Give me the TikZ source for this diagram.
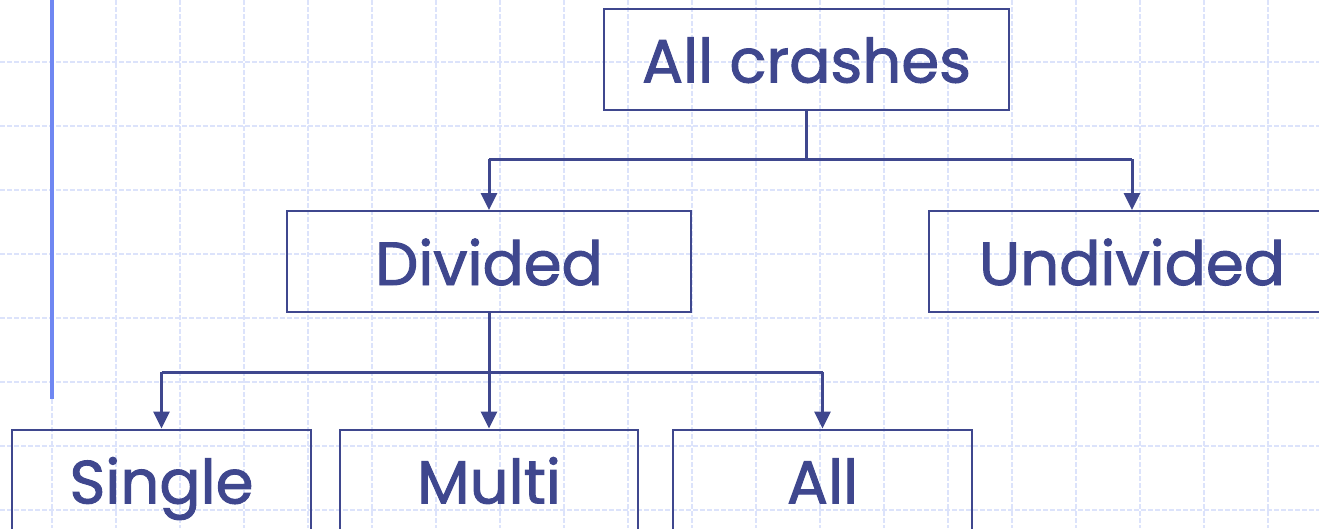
\documentclass[tikz,border=0pt]{standalone}
\usepackage{fontspec}
\setmainfont{Poppins}[FakeBold=1.6]
\usetikzlibrary{arrows.meta}
\definecolor{ink}{HTML}{3F478E}
\definecolor{gridblue}{HTML}{DCE3FB}
\definecolor{barblue}{HTML}{6F87F2}
\tikzset{
  box/.style={draw=ink, line width=2pt, text=ink, minimum width=#1, minimum height=101pt,
    inner sep=0pt, text height=47pt, text depth=0pt, font=\fontsize{61}{67}\selectfont},
  box/.default=300pt,
  link/.style={draw=ink, line width=3pt, -{Triangle[length=17pt,width=16pt]}},
  trunk/.style={draw=ink, line width=3pt},
  gridline/.style={draw=gridblue, line width=1.3pt, dash pattern=on 5pt off 2pt}
}
\begin{document}
\begin{tikzpicture}[x=1pt,y=-1pt]
  \useasboundingbox (0,0) rectangle (1319,528);
  \begin{scope}
    \clip (0,0) rectangle (1319,528);
    \fill[white] (0,0) rectangle (1319,528);
    % background squares
    \foreach \gx in {52,116,...,1316} \draw[gridline] (\gx,0) -- (\gx,528);
    \foreach \gy in {62,126,...,510} \draw[gridline] (0,\gy) -- (1319,\gy);
    % margin bar
    \fill[barblue] (50,0) rectangle (54,399);

    % boxes
    \node[box=405pt] (root) at (806.5,59) {All crashes};
    \node[box=404pt] (div) at (489,261.5) {Divided};
    \node[box=406pt] (undiv) at (1132,261.5) {Undivided};
    \node[box=299pt] (single) at (161.5,480) {Single};
    \node[box=298pt] (multi) at (489,480) {Multi};
    \node[box=299pt] (all) at (822.5,480) {All};

    % branch points
    \coordinate (j1) at (root.south |- 0,159);
    \coordinate (j2) at (div.south |- 0,372);

    \draw[trunk] (root.south) -- (j1);
    \draw[trunk] (div.north |- j1) -- (undiv.north |- j1);
    \draw[link] (div.north |- j1) -- (div.north);
    \draw[link] (undiv.north |- j1) -- (undiv.north);

    \draw[trunk] (div.south) -- (j2);
    \draw[trunk] (single.north |- j2) -- (all.north |- j2);
    \draw[link] (single.north |- j2) -- (single.north);
    \draw[link] (j2) -- (multi.north);
    \draw[link] (all.north |- j2) -- (all.north);
  \end{scope}
\end{tikzpicture}
\end{document}
